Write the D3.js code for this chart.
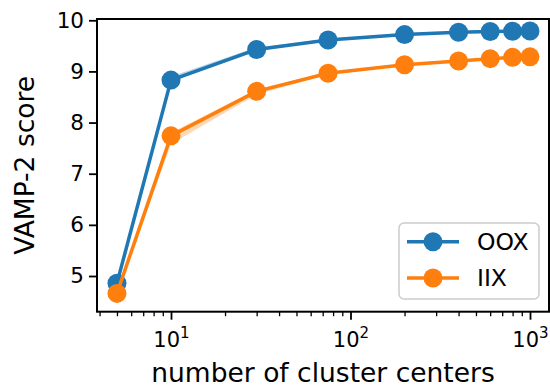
<!DOCTYPE html>
<html>
<head>
<meta charset="utf-8">
<script src="https://cdn.jsdelivr.net/npm/d3@7"></script>
<style>
  html, body { margin: 0; padding: 0; background: #fff; }
  svg { display: block; }
  text { font-family: "DejaVu Sans", sans-serif; fill: #000; }
</style>
</head>
<body>
<svg id="chart" width="550" height="387"></svg>
<script>
// number of cluster centers (log axis)
const centers = [5, 10, 30, 75, 200, 400, 600, 800, 1000];

// mean VAMP-2 score per series
const oox = [4.86, 8.83, 9.43, 9.615, 9.72, 9.765, 9.78, 9.785, 9.79];
const iix = [4.66, 7.74, 8.61, 8.965, 9.13, 9.205, 9.25, 9.275, 9.285];

// confidence band bounds
const ooxLow  = [4.83, 8.80, 9.40, 9.60, 9.70, 9.75, 9.77, 9.775, 9.78];
const ooxHigh = [4.89, 8.90, 9.47, 9.64, 9.74, 9.78, 9.79, 9.795, 9.80];
const iixLow  = [4.62, 7.58, 8.55, 8.94, 9.11, 9.19, 9.24, 9.265, 9.275];
const iixHigh = [4.70, 7.80, 8.65, 8.99, 9.15, 9.22, 9.26, 9.285, 9.295];

const seriesNames = ["OOX", "IIX"];
const seriesColors = ["#1f77b4", "#ff7f0e"];

const yTicks = [5, 6, 7, 8, 9, 10];
const xMajorTicks = [10, 100, 1000];
const xTickExponents = ["1", "2", "3"];
const xMinorTicks = [4, 5, 6, 7, 8, 9, 20, 30, 40, 50, 60, 70, 80, 90, 200, 300, 400, 500, 600, 700, 800, 900];

const plot = { left: 97, right: 549, top: 19, bottom: 311.7 };

const svg = d3.select("#chart");

const x = d3.scaleLog().domain([3.87, 1276]).range([plot.left, plot.right]);
const y = d3.scaleLinear().domain([4.302, 10.025]).range([plot.bottom, plot.top]);

const series = [
  { name: seriesNames[0], color: seriesColors[0], mean: oox, low: ooxLow, high: ooxHigh },
  { name: seriesNames[1], color: seriesColors[1], mean: iix, low: iixLow, high: iixHigh }
];

const area = d3.area()
  .x(d => x(d.c))
  .y0(d => y(d.lo))
  .y1(d => y(d.hi));

const line = d3.line()
  .x(d => x(d.c))
  .y(d => y(d.v));

const dataLayer = svg.append("g");

series.forEach(s => {
  const rows = centers.map((c, i) => ({ c, v: s.mean[i], lo: s.low[i], hi: s.high[i] }));
  dataLayer.append("path")
    .datum(rows)
    .attr("d", area)
    .attr("fill", s.color)
    .attr("fill-opacity", 0.3)
    .attr("stroke", "none");
  dataLayer.append("path")
    .datum(rows)
    .attr("d", line)
    .attr("fill", "none")
    .attr("stroke", s.color)
    .attr("stroke-width", 3.5)
    .attr("stroke-linejoin", "round");
  dataLayer.selectAll(null)
    .data(rows)
    .enter()
    .append("circle")
    .attr("cx", d => x(d.c))
    .attr("cy", d => y(d.v))
    .attr("r", 9.5)
    .attr("fill", s.color);
});

// axes
const yAxis = d3.axisLeft(y)
  .tickValues(yTicks)
  .tickFormat(d3.format("d"))
  .tickSize(8)
  .tickPadding(5);

const gy = svg.append("g")
  .attr("transform", `translate(${plot.left},0)`)
  .call(yAxis);
gy.select(".domain").remove();
gy.selectAll(".tick line").attr("stroke", "#000").attr("stroke-width", 1.8);
gy.selectAll(".tick text")
  .attr("font-size", 21.5)
  .attr("font-family", "DejaVu Sans, sans-serif");

const xAxisMinor = d3.axisBottom(x)
  .tickValues(xMinorTicks)
  .tickFormat("")
  .tickSize(4.5);
const gxm = svg.append("g")
  .attr("transform", `translate(0,${plot.bottom})`)
  .call(xAxisMinor);
gxm.select(".domain").remove();
gxm.selectAll(".tick line").attr("stroke", "#000").attr("stroke-width", 1.3);

const xAxisMajor = d3.axisBottom(x)
  .tickValues(xMajorTicks)
  .tickFormat("")
  .tickSize(8);
const gx = svg.append("g")
  .attr("transform", `translate(0,${plot.bottom})`)
  .call(xAxisMajor);
gx.select(".domain").remove();
gx.selectAll(".tick line").attr("stroke", "#000").attr("stroke-width", 1.8);

// major tick labels as 10 with superscript exponent
gx.selectAll(".tick").each(function (d, i) {
  const t = d3.select(this).append("text")
    .attr("y", 35)
    .attr("text-anchor", "middle")
    .attr("font-size", 21)
    .style("fill", "#000");
  t.append("tspan").text("10");
  t.append("tspan")
    .attr("font-size", 15)
    .attr("dy", -9)
    .text(xTickExponents[i]);
});

// frame
svg.append("rect")
  .attr("x", plot.left)
  .attr("y", plot.top)
  .attr("width", plot.right - plot.left)
  .attr("height", plot.bottom - plot.top)
  .attr("fill", "none")
  .attr("stroke", "#000")
  .attr("stroke-width", 2);

// axis titles
svg.append("text")
  .attr("x", (plot.left + plot.right) / 2)
  .attr("y", 382)
  .attr("text-anchor", "middle")
  .attr("font-size", 26.5)
  .text("number of cluster centers");

svg.append("text")
  .attr("transform", `translate(34,${(plot.top + plot.bottom) / 2}) rotate(-90)`)
  .attr("text-anchor", "middle")
  .attr("font-size", 26.5)
  .text("VAMP-2 score");

// legend
const legend = svg.append("g");
legend.append("rect")
  .attr("x", 399)
  .attr("y", 223)
  .attr("width", 140)
  .attr("height", 76)
  .attr("rx", 5)
  .attr("fill", "#fff")
  .attr("fill-opacity", 0.8)
  .attr("stroke", "#cccccc")
  .attr("stroke-width", 1.5);

series.forEach((s, i) => {
  const cy = 241.7 + i * 36.3;
  legend.append("line")
    .attr("x1", 407).attr("x2", 459)
    .attr("y1", cy).attr("y2", cy)
    .attr("stroke", s.color)
    .attr("stroke-width", 3.5);
  legend.append("circle")
    .attr("cx", 433).attr("cy", cy)
    .attr("r", 9.5)
    .attr("fill", s.color);
  legend.append("text")
    .attr("x", 477)
    .attr("y", cy)
    .attr("dy", "0.36em")
    .attr("font-size", 23.5)
    .text(s.name);
});
</script>
</body>
</html>
